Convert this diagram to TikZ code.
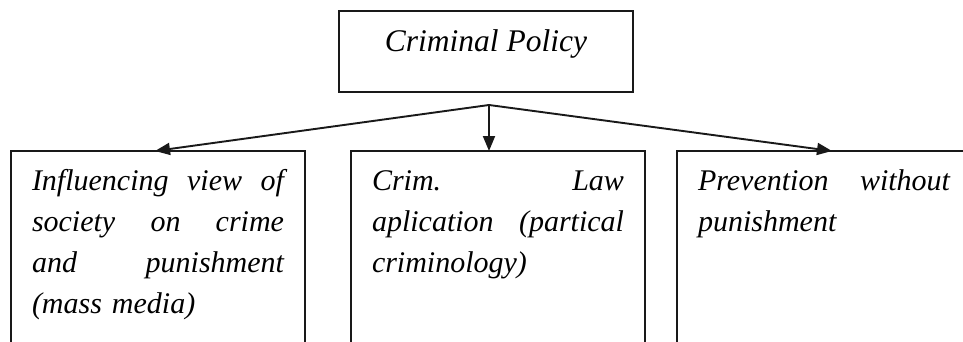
\documentclass[tikz,border=0pt]{standalone}
\usepackage{fontspec}
\setmainfont{Liberation Serif}
\usepackage{tikz}
\usetikzlibrary{arrows.meta, positioning, calc}
\newcommand{\jline}[1]{\makebox[252pt][s]{\spaceskip=0pt\xspaceskip=0pt #1}\\}

\begin{document}
\begin{tikzpicture}[
  x=1pt, y=-1pt,
  >=Triangle,
  every node/.style={font=\fontsize{30}{41}\selectfont\itshape},
  policy/.style={rectangle, draw=black!90, line width=1.8pt, anchor=north west,
                 inner sep=0pt, outer sep=0pt, minimum width=294pt,
                 text height=41pt, text depth=40pt,
                 font=\fontsize{31.5}{41}\selectfont\itshape},
  branch/.style={rectangle, draw=black!90, line width=1.8pt, anchor=north west,
                 align=left, text width=252pt, inner xsep=21pt, inner ysep=19pt,
                 outer sep=0pt, text height=20.5pt, text depth=200pt},
  link/.style={-{Triangle[length=15pt, width=12pt]}, line width=1.9pt, black!90}
]

\useasboundingbox (0,0) rectangle (963,342);

\node[policy] (crimpol) at (339,11) {Criminal Policy};

\node[branch] (influence) at (11,151) {%
  \jline{Influencing view of}
  \jline{society on crime}
  \jline{and punishment}
  (mass media)};
\node[branch] (lawapp) at (351,151) {%
  \jline{Crim. Law}
  \jline{aplication (partical}
  criminology)};
% its right side runs off the page
\node[branch, text width=280pt] (prevent) at (677,151) {%
  \jline{Prevention without}
  punishment};

% the three arrows leave one point under the top box
\coordinate (hub) at (489,105);
\draw[link] (hub) -- ($(influence.north west)+(144,0)$);
\draw[link] (hub) -- (hub |- lawapp.north);
\draw[link] (hub) -- ($(prevent.north west)+(155,0)$);

\end{tikzpicture}
\end{document}
